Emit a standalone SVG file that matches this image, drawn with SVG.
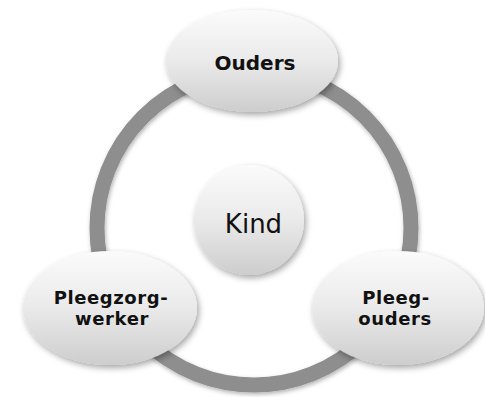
<svg xmlns="http://www.w3.org/2000/svg" width="485" height="397" viewBox="0 0 485 397">
  <defs>
    <linearGradient id="g" x1="0" y1="0" x2="0" y2="1">
      <stop offset="0" stop-color="#fbfbfb"/>
      <stop offset="0.5" stop-color="#eaeaea"/>
      <stop offset="1" stop-color="#cdcdcd"/>
    </linearGradient>
    <filter id="sh" x="-20%" y="-20%" width="140%" height="150%">
      <feDropShadow dx="2" dy="3" stdDeviation="3" flood-color="#000" flood-opacity="0.35"/>
    </filter>
    <filter id="rsh" x="-10%" y="-10%" width="120%" height="120%">
      <feDropShadow dx="1" dy="2" stdDeviation="2" flood-color="#000" flood-opacity="0.3"/>
    </filter>
  </defs>
  <style>
    .node { fill: url(#g); filter: url(#sh); }
    .lbl { font-family: "DejaVu Sans", Verdana, sans-serif; font-weight: bold; font-size: 18px; letter-spacing: 0.6px; fill: #111; text-anchor: middle; }
    .kind { font-family: "DejaVu Sans", Verdana, sans-serif; font-size: 26px; fill: #111; text-anchor: middle; }
  </style>
  <rect width="485" height="397" fill="#ffffff"/>
  <g id="connectors">
    <circle cx="254" cy="228" r="157" fill="none" stroke="#8e8e8e" stroke-width="15" filter="url(#rsh)"/>
  </g>
  <g id="kind">
    <circle class="node" cx="249" cy="220" r="55"/>
    <text class="kind" x="253.5" y="233">Kind</text>
  </g>
  <g id="ouders">
    <ellipse class="node" cx="252" cy="61" rx="86" ry="51"/>
    <text class="lbl" x="255" y="70" style="font-size:20px;letter-spacing:0">Ouders</text>
  </g>
  <g id="pleegzorgwerker">
    <ellipse class="node" cx="110" cy="308" rx="87" ry="57"/>
    <text class="lbl" x="111" y="304">Pleegzorg-</text>
    <text class="lbl" x="112" y="325">werker</text>
  </g>
  <g id="pleegouders">
    <ellipse class="node" cx="398" cy="308" rx="86" ry="57"/>
    <text class="lbl" x="396" y="304">Pleeg-</text>
    <text class="lbl" x="395" y="325">ouders</text>
  </g>
</svg>
